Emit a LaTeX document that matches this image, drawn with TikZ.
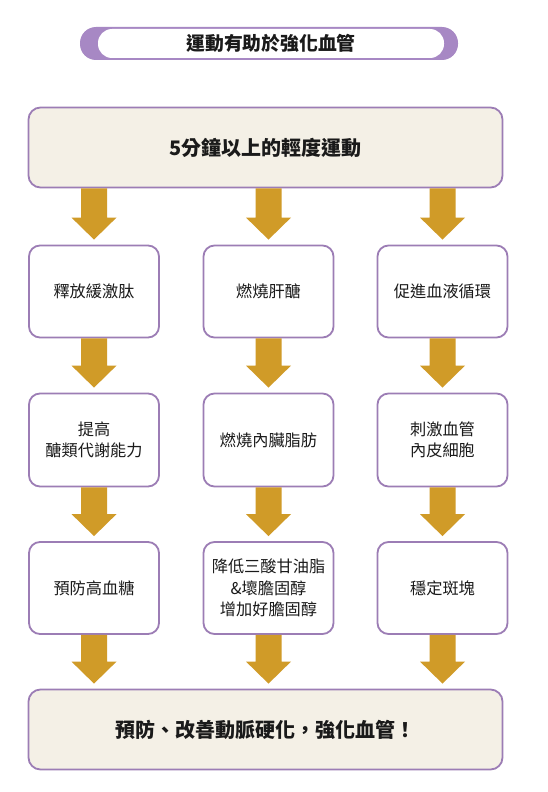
\documentclass[tikz,border=0pt]{standalone}
\usepackage{fontspec}
\setmainfont{Noto Sans CJK TC}
\usetikzlibrary{calc}
\definecolor{boxpurple}{HTML}{9C7DB5}
\definecolor{pillpurple}{HTML}{A788C4}
\definecolor{beige}{HTML}{F4F0E6}
\definecolor{arrowgold}{HTML}{D09B28}
\definecolor{txt}{HTML}{1A1A1A}
\tikzset{
  stepbox/.style={draw=boxpurple, line width=1.8pt, fill=white, rounded corners=11pt,
    minimum width=130pt, minimum height=92pt, align=center, text=txt,
    font=\fontsize{16.2pt}{21.5pt}\selectfont, inner sep=0pt},
  widebox/.style={draw=boxpurple, line width=1.8pt, fill=beige, rounded corners=12pt,
    minimum width=474pt, minimum height=80pt, align=center, text=txt,
    font=\bfseries\fontsize{20pt}{24pt}\selectfont, inner sep=0pt},
}
\newcommand\fatarrow[2]{%
  \fill[arrowgold] let \p1=($(#1.south -| #2.north)$), \p2=(#2.north) in
    (\x1-13pt,\y1) -- (\x1+13pt,\y1) -- (\x1+13pt,\y2+27pt) -- (\x1+22.5pt,\y2+27pt)
    -- (\x1,\y2+5pt) -- (\x1-22.5pt,\y2+27pt) -- (\x1-13pt,\y2+27pt) -- cycle;}
\begin{document}
\begin{tikzpicture}[x=1pt,y=-1pt]
\useasboundingbox[fill=white] (0,0) rectangle (548,792);
% title pill
\fill[pillpurple, rounded corners=16pt] (80,27) rectangle (458,60);
\node[fill=white, rounded corners=14pt, minimum width=346pt, minimum height=29pt, inner sep=0pt,
  text=txt, font=\bfseries\fontsize{18.8pt}{20pt}\selectfont] (title) at (271,43.5) {運動有助於強化血管};
% top box
\node[widebox] (top) at (265.5,147.5) {5分鐘以上的輕度運動};
% row 1
\node[stepbox] (a1) at (94,291.5) {釋放緩激肽};
\node[stepbox] (b1) at (268.5,291.5) {燃燒肝醣};
\node[stepbox] (c1) at (442.5,291.5) {促進血液循環};
% row 2
\node[stepbox, minimum height=93pt] (a2) at (94,440) {提高\\醣類代謝能力};
\node[stepbox, minimum height=93pt] (b2) at (268.5,440) {燃燒內臟脂肪};
\node[stepbox, minimum height=93pt] (c2) at (442.5,440) {刺激血管\\內皮細胞};
% row 3
\node[stepbox] (a3) at (94,588) {預防高血糖};
\node[stepbox] (b3) at (268.5,588) {降低三酸甘油脂\\\&壞膽固醇\\增加好膽固醇};
\node[stepbox] (c3) at (442.5,588) {穩定斑塊};
% bottom box
\node[widebox] (bot) at (265.5,729.5) {預防、改善動脈硬化，強化血管！};
% arrows
\fatarrow{top}{a1}\fatarrow{top}{b1}\fatarrow{top}{c1}
\fatarrow{a1}{a2}\fatarrow{b1}{b2}\fatarrow{c1}{c2}
\fatarrow{a2}{a3}\fatarrow{b2}{b3}\fatarrow{c2}{c3}
\coordinate (ba) at (bot.north -| a3.south);
\coordinate (bb) at (bot.north -| b3.south);
\coordinate (bc) at (bot.north -| c3.south);
\fatarrow{a3}{ba}\fatarrow{b3}{bb}\fatarrow{c3}{bc}
\end{tikzpicture}
\end{document}
